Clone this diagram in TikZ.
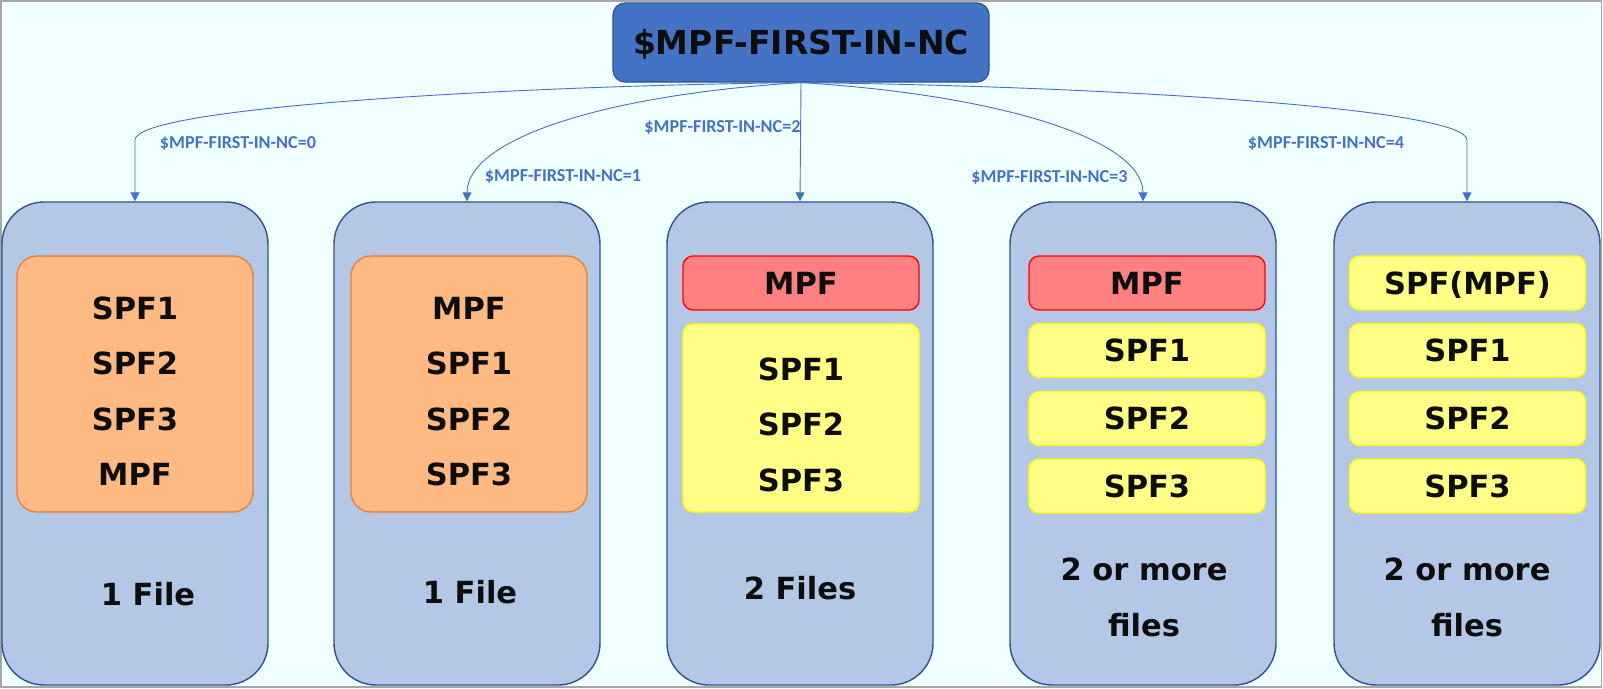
\documentclass[tikz,border=0pt]{standalone}
\usepackage{fontspec}
\setmainfont{DejaVu Sans}
\newfontfamily\lblfont{Carlito}
\usetikzlibrary{arrows.meta}
\definecolor{bgc}{HTML}{F0FFFF}
\definecolor{framec}{HTML}{A6A6A6}
\definecolor{titlefill}{HTML}{4472C4}
\definecolor{darkblue}{HTML}{2F528F}
\definecolor{colfill}{HTML}{B4C7E7}
\definecolor{orfill}{HTML}{FFB982}
\definecolor{ordraw}{HTML}{ED7D31}
\definecolor{redfill}{HTML}{FF8080}
\definecolor{reddraw}{HTML}{FF0000}
\definecolor{yelfill}{HTML}{FFFF85}
\definecolor{yeldraw}{HTML}{FFFF00}
\definecolor{lblc}{HTML}{4472C4}
\definecolor{txtc}{HTML}{0D0D0D}
\tikzset{
  colbox/.style={draw=darkblue, fill=colfill, line width=1.4pt, rounded corners=42pt,
    minimum width=266pt, minimum height=483pt, inner sep=0pt},
  orbox/.style={draw=ordraw, fill=orfill, line width=1.3pt, rounded corners=20pt,
    minimum width=236pt, minimum height=256pt, inner sep=0pt},
  redbox/.style={draw=reddraw, fill=redfill, line width=1.3pt, rounded corners=10pt,
    minimum width=236pt, minimum height=54pt, inner sep=0pt},
  yelbox/.style={draw=yeldraw, fill=yelfill, line width=1.3pt, rounded corners=10pt,
    minimum width=236pt, inner sep=0pt},
  big/.style={font=\bfseries\fontsize{30.5}{36}\selectfont, text=txtc,
    text height=22.2pt, text depth=0pt, inner sep=0pt},
  lbl/.style={font=\lblfont\bfseries\fontsize{18.2}{22}\selectfont, text=lblc,
    text height=11.7pt, text depth=0pt, inner sep=0pt},
  conn/.style={draw=lblc, line width=0.9pt, -{Triangle[length=9pt,width=9pt]}},
}
\begin{document}
\begin{tikzpicture}[x=1pt, y=-1pt]
\useasboundingbox (0,0) rectangle (1603,688);
\fill[bgc] (0,0) rectangle (1603,688);
\draw[framec, line width=1.5pt] (0.75,0.75) rectangle (1601.5,686.75);

% title
\node[draw=darkblue, fill=titlefill, line width=1.2pt, rounded corners=12pt,
  minimum width=376pt, minimum height=79pt, inner sep=0pt] (title) at (801,42.5) {};
\node[font=\bfseries\fontsize{33}{39}\selectfont, text=txtc, text height=24pt,
  text depth=0pt, inner sep=0pt] (titletxt) at (801,42) {\$MPF-FIRST-IN-NC};

% columns
\node[colbox] (c0) at (135,443.5) {};
\node[colbox] (c1) at (467,443.5) {};
\node[colbox] (c2) at (800,443.5) {};
\node[colbox] (c3) at (1143,443.5) {};
\node[colbox] (c4) at (1467,443.5) {};

% column 0
\node[orbox] (o0) at (135,384) {};
\node[big] (t0a) at (135,308) {SPF1};
\node[big] (t0b) at (135,363) {SPF2};
\node[big] (t0c) at (135,419) {SPF3};
\node[big] (t0d) at (135,474) {MPF};
\node[big] (f0) at (148,594) {1 File};

% column 1
\node[orbox] (o1) at (469,384) {};
\node[big] (t1a) at (469,308) {MPF};
\node[big] (t1b) at (469,363) {SPF1};
\node[big] (t1c) at (469,419) {SPF2};
\node[big] (t1d) at (469,474) {SPF3};
\node[big] (f1) at (470,592) {1 File};

% column 2
\node[redbox] (r2) at (801,283) {};
\node[big] (t2a) at (801,283) {MPF};
\node[yelbox, minimum height=188pt] (y2) at (801,418) {};
\node[big] (t2b) at (801,369) {SPF1};
\node[big] (t2c) at (801,424) {SPF2};
\node[big] (t2d) at (801,480) {SPF3};
\node[big] (f2) at (800,588) {2 Files};

% column 3
\node[redbox] (r3) at (1147,283) {};
\node[big] (t3a) at (1147,283) {MPF};
\node[yelbox, minimum height=54pt] (y3a) at (1147,350.5) {};
\node[big] at (y3a) {SPF1};
\node[yelbox, minimum height=54pt] (y3b) at (1147,418.5) {};
\node[big] at (y3b) {SPF2};
\node[yelbox, minimum height=54pt] (y3c) at (1147,486) {};
\node[big] at (y3c) {SPF3};
\node[big] (f3a) at (1144,569) {2 or more};
\node[big] (f3b) at (1144,625) {files};

% column 4
\node[yelbox, minimum height=54pt] (y4o) at (1467.5,283) {};
\node[big] at (y4o) {SPF(MPF)};
\node[yelbox, minimum height=54pt] (y4a) at (1467.5,350.5) {};
\node[big] at (y4a) {SPF1};
\node[yelbox, minimum height=54pt] (y4b) at (1467.5,418.5) {};
\node[big] at (y4b) {SPF2};
\node[yelbox, minimum height=54pt] (y4c) at (1467.5,486) {};
\node[big] at (y4c) {SPF3};
\node[big] (f4a) at (1467,569) {2 or more};
\node[big] (f4b) at (1467,625) {files};

% connectors
\draw[conn] (title.south) .. controls (500,86) and (135,108) .. (135,140) -- (c0.north);
\draw[conn] (title.south) .. controls (600,95) and (467,140) .. (c1.north);
\draw[conn] (title.south) -- (c2.north);
\draw[conn] (title.south) .. controls (1002,95) and (1143,140) .. (c3.north);
\draw[conn] (title.south) .. controls (1102,86) and (1467,108) .. (1467,140) -- (c4.north);

% connector labels
\node[lbl] (l0) at (238,142.7) {\$MPF-FIRST-IN-NC=0};
\node[lbl] (l1) at (563,176) {\$MPF-FIRST-IN-NC=1};
\node[lbl] (l2) at (722.5,127) {\$MPF-FIRST-IN-NC=2};
\node[lbl] (l3) at (1049.5,177) {\$MPF-FIRST-IN-NC=3};
\node[lbl] (l4) at (1326,143) {\$MPF-FIRST-IN-NC=4};
\end{tikzpicture}
\end{document}
